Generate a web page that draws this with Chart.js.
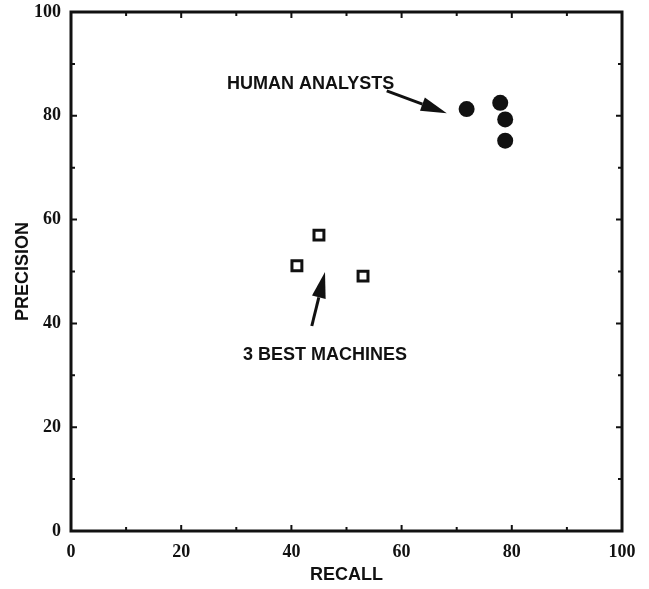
<!DOCTYPE html>
<html>
<head>
<meta charset="utf-8">
<script src="https://cdn.jsdelivr.net/npm/chart.js@4.4.0/dist/chart.umd.min.js"></script>
<style>
  html, body { margin: 0; padding: 0; background: #fff; }
  #wrap { width: 649px; height: 589px; }
</style>
</head>
<body>
<div id="wrap"><canvas id="pr-chart"></canvas></div>
<script>
// recall / precision of the human analysts
const humanRecall = [71.8, 77.9, 78.8, 78.8];
const humanPrecision = [81.3, 82.5, 79.3, 75.2];

// recall / precision of the three best systems
const machineRecall = [45.0, 41.0, 53.0];
const machinePrecision = [57.0, 51.1, 49.1];

// callout labels, anchored in data units
const noteTexts = ["HUMAN ANALYSTS", "3 BEST MACHINES"];
const noteX = [28.3, 46.1];
const noteY = [86.2, 34.0];
const noteAlign = ["left", "center"];
// arrows: [fromX, fromY, toX, toY]
const arrowLines = [
  [57.3, 84.8, 68.2, 80.5],
  [43.7, 39.5, 46.1, 49.9]
];

const INK = "#111";

function toPoints(xs, ys) {
  return xs.map((x, i) => ({ x: x, y: ys[i] }));
}

// frame, inward ticks, arrows and callout text
const decorations = {
  id: "decorations",
  afterDraw(chart) {
    const ctx = chart.ctx;
    const area = chart.chartArea;
    const xs = chart.scales.x;
    const ys = chart.scales.y;
    ctx.save();
    ctx.strokeStyle = INK;
    ctx.fillStyle = INK;

    // box around plot
    ctx.lineWidth = 3;
    ctx.strokeRect(area.left, area.top, area.right - area.left, area.bottom - area.top);

    // tick marks every 10, pointing inward on all four sides
    ctx.lineWidth = 2;
    for (let v = 10; v < 100; v += 10) {
      const len = v % 20 === 0 ? 6 : 4;
      const px = xs.getPixelForValue(v);
      const py = ys.getPixelForValue(v);
      ctx.beginPath();
      ctx.moveTo(px, area.bottom); ctx.lineTo(px, area.bottom - len);
      ctx.moveTo(px, area.top); ctx.lineTo(px, area.top + len);
      ctx.moveTo(area.left, py); ctx.lineTo(area.left + len, py);
      ctx.moveTo(area.right, py); ctx.lineTo(area.right - len, py);
      ctx.stroke();
    }

    // arrows
    arrowLines.forEach((a) => {
      const x0 = xs.getPixelForValue(a[0]);
      const y0 = ys.getPixelForValue(a[1]);
      const x1 = xs.getPixelForValue(a[2]);
      const y1 = ys.getPixelForValue(a[3]);
      const ang = Math.atan2(y1 - y0, x1 - x0);
      const headLen = 26;
      const headHalf = 7;
      const bx = x1 - headLen * Math.cos(ang);
      const by = y1 - headLen * Math.sin(ang);
      ctx.lineWidth = 3;
      ctx.beginPath();
      ctx.moveTo(x0, y0);
      ctx.lineTo(bx, by);
      ctx.stroke();
      ctx.beginPath();
      ctx.moveTo(x1, y1);
      ctx.lineTo(bx + headHalf * Math.sin(ang), by - headHalf * Math.cos(ang));
      ctx.lineTo(bx - headHalf * Math.sin(ang), by + headHalf * Math.cos(ang));
      ctx.closePath();
      ctx.fill();
    });

    // callout text
    ctx.font = "bold 18px 'Liberation Sans', Arial, sans-serif";
    ctx.textBaseline = "middle";
    noteTexts.forEach((t, i) => {
      ctx.textAlign = noteAlign[i];
      ctx.fillText(t, xs.getPixelForValue(noteX[i]), ys.getPixelForValue(noteY[i]));
    });
    ctx.restore();
  }
};

const tickFont = { family: "'Liberation Serif', 'Times New Roman', serif", size: 18, weight: "bold" };
const titleFont = { family: "'Liberation Sans', Arial, sans-serif", size: 18, weight: "bold" };

// fixed scale sizes so the plot box lands in the same place every time
function fixScale(size) {
  return function (scale) {
    if (scale.isHorizontal()) scale.height = size; else scale.width = size;
    scale.paddingTop = 0;
    scale.paddingBottom = 0;
    scale.paddingLeft = 0;
    scale.paddingRight = 0;
  };
}

new Chart(document.getElementById("pr-chart"), {
  type: "scatter",
  data: {
    datasets: [
      {
        label: "Human analysts",
        data: toPoints(humanRecall, humanPrecision),
        pointStyle: "circle",
        pointRadius: 8,
        pointHoverRadius: 8,
        backgroundColor: INK,
        borderColor: INK,
        borderWidth: 0
      },
      {
        label: "Best machines",
        data: toPoints(machineRecall, machinePrecision),
        pointStyle: "rect",
        pointRadius: 7,
        pointHoverRadius: 7,
        backgroundColor: "#fff",
        borderColor: INK,
        borderWidth: 3
      }
    ]
  },
  options: {
    responsive: true,
    maintainAspectRatio: false,
    animation: false,
    layout: { padding: { top: 12, right: 27, left: 0, bottom: 0 } },
    plugins: {
      legend: { display: false },
      tooltip: { enabled: false }
    },
    scales: {
      x: {
        type: "linear",
        min: 0,
        max: 100,
        grid: { display: false, drawTicks: false },
        border: { display: false },
        ticks: { stepSize: 20, padding: 11, color: INK, font: tickFont, maxRotation: 0 },
        title: { display: true, text: "RECALL", color: INK, font: titleFont, padding: { top: 0, bottom: 3 } },
        afterFit: fixScale(58)
      },
      y: {
        type: "linear",
        min: 0,
        max: 100,
        grid: { display: false, drawTicks: false },
        border: { display: false },
        ticks: { stepSize: 20, padding: 10, color: INK, font: tickFont },
        title: { display: true, text: "PRECISION", color: INK, font: titleFont, padding: { top: 12.7, bottom: 0 } },
        afterFit: fixScale(71)
      }
    }
  },
  plugins: [decorations]
});
</script>
</body>
</html>
